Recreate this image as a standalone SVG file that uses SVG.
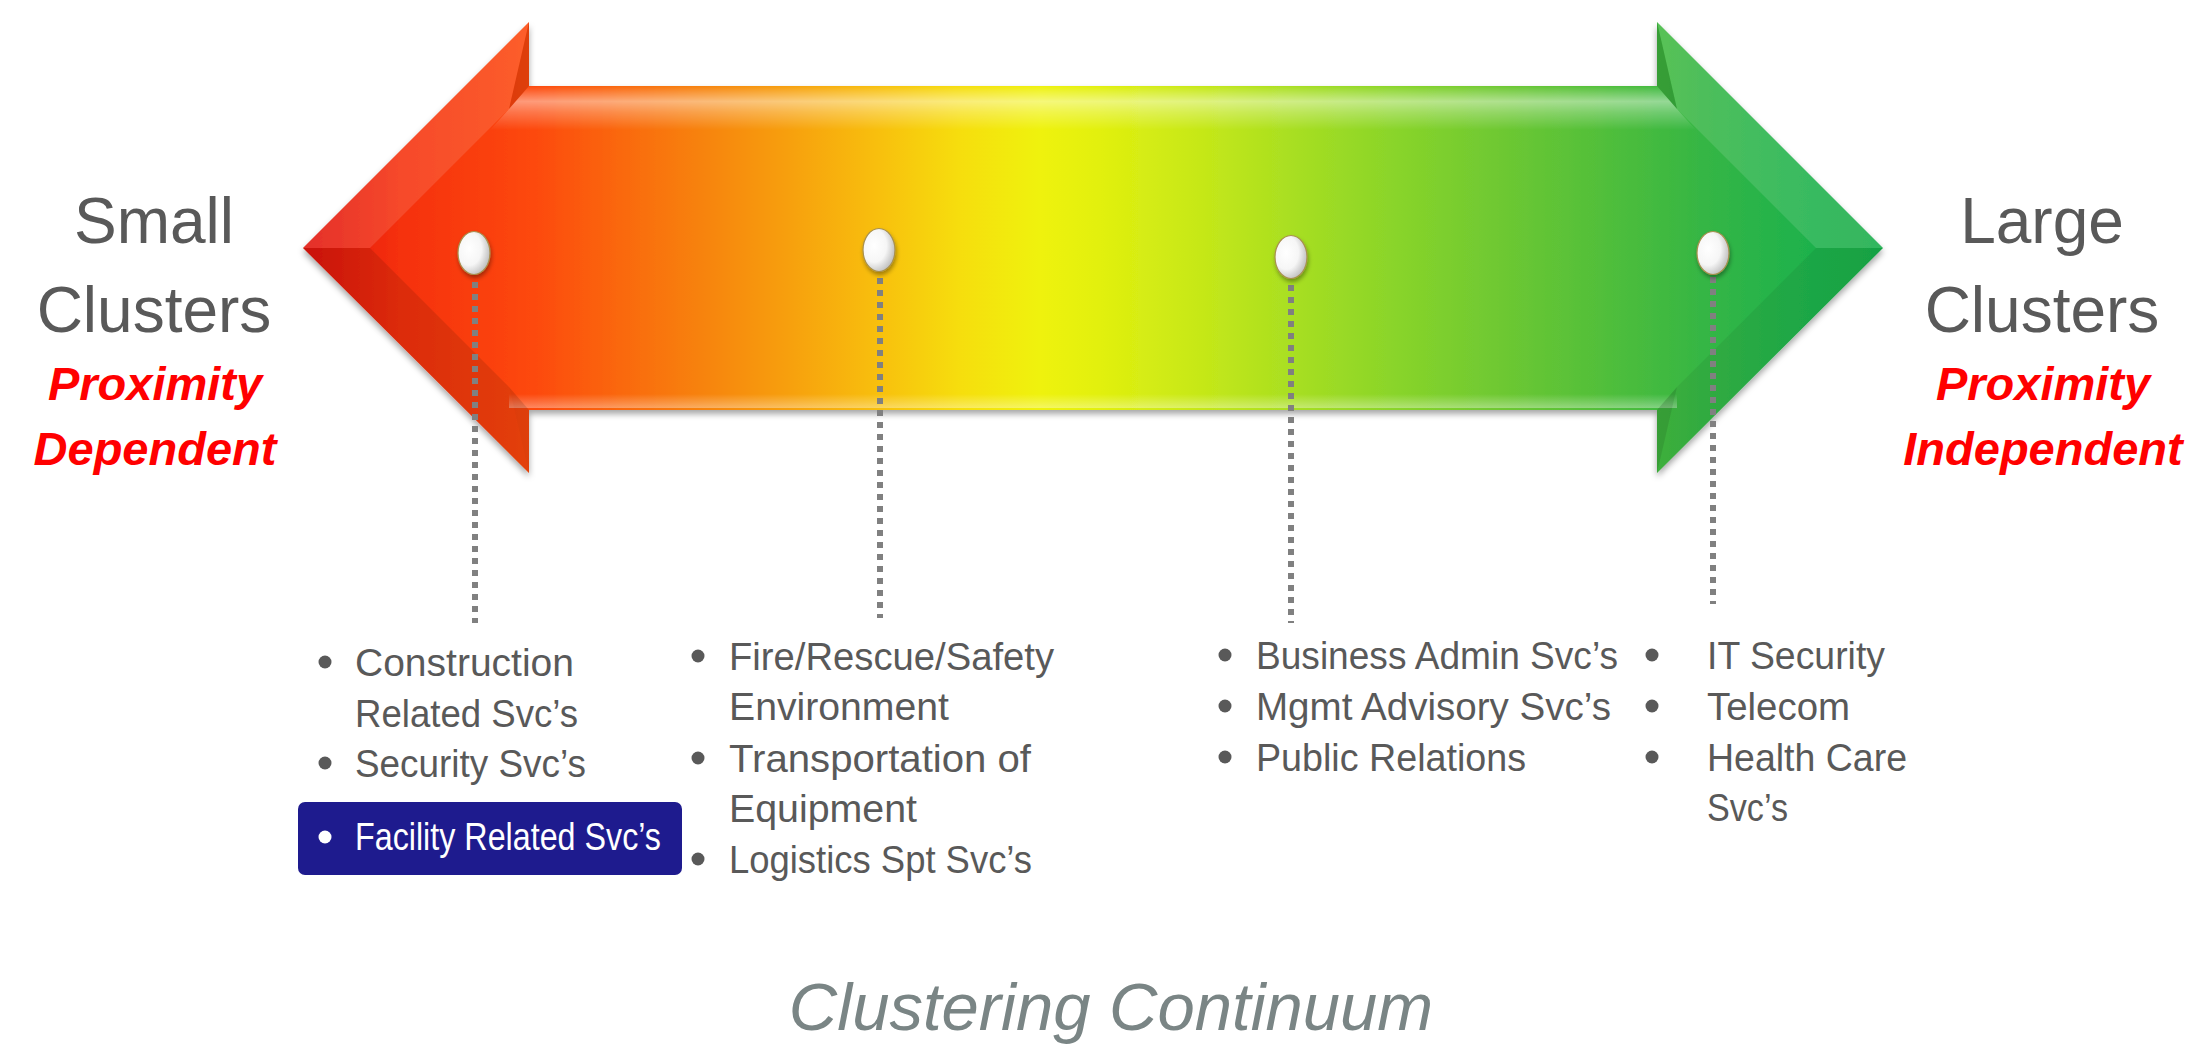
<svg xmlns="http://www.w3.org/2000/svg" width="2203" height="1045" viewBox="0 0 2203 1045">
<defs>
<linearGradient id="rainbow" gradientUnits="userSpaceOnUse" x1="303" y1="0" x2="1883" y2="0">
<stop offset="0" stop-color="#e0140a"/>
<stop offset=".061" stop-color="#f5300c"/>
<stop offset=".144" stop-color="#fd480a"/>
<stop offset=".201" stop-color="#fa680a"/>
<stop offset=".251" stop-color="#f7820a"/>
<stop offset=".308" stop-color="#f7a00c"/>
<stop offset=".365" stop-color="#f8c00a"/>
<stop offset=".416" stop-color="#f6de0a"/>
<stop offset=".466" stop-color="#eff20a"/>
<stop offset=".504" stop-color="#e2f00e"/>
<stop offset=".568" stop-color="#c6e818"/>
<stop offset=".631" stop-color="#a6de22"/>
<stop offset=".694" stop-color="#88d42a"/>
<stop offset=".758" stop-color="#6ec832"/>
<stop offset=".821" stop-color="#52bf3a"/>
<stop offset=".884" stop-color="#36b644"/>
<stop offset=".947" stop-color="#20b24c"/>
<stop offset="1" stop-color="#18ac48"/>
</linearGradient>
<linearGradient id="topGlow" x1="0" y1="0" x2="0" y2="1">
<stop offset="0" stop-color="#fff" stop-opacity="0"/>
<stop offset=".35" stop-color="#fff" stop-opacity=".45"/>
<stop offset=".6" stop-color="#fff" stop-opacity=".25"/>
<stop offset="1" stop-color="#fff" stop-opacity="0"/>
</linearGradient>
<linearGradient id="botGlow" x1="0" y1="0" x2="0" y2="1">
<stop offset="0" stop-color="#fff" stop-opacity="0"/>
<stop offset="1" stop-color="#fff" stop-opacity=".35"/>
</linearGradient>
<radialGradient id="pinFill" cx=".35" cy=".4" r=".7">
<stop offset="0" stop-color="#ffffff"/>
<stop offset=".55" stop-color="#f6f6f6"/>
<stop offset="1" stop-color="#b8b8b8"/>
</radialGradient>
<filter id="shadow" x="-5%" y="-10%" width="110%" height="125%">
<feDropShadow dx="0" dy="4" stdDeviation="3" flood-color="#000" flood-opacity=".35"/>
</filter>
<filter id="pinShadow" x="-50%" y="-50%" width="200%" height="200%">
<feDropShadow dx="1" dy="3" stdDeviation="2" flood-color="#000" flood-opacity=".35"/>
</filter>
</defs>
<style>
.side{font-family:"Liberation Sans",Arial,sans-serif;font-size:64px;fill:#595959;text-anchor:middle}
.red{font-family:"Liberation Sans",Arial,sans-serif;font-size:47px;font-weight:bold;font-style:italic;fill:#ff0000;text-anchor:middle}
.item{font-family:"Liberation Sans",Arial,sans-serif;font-size:38px;fill:#595959}
.white{fill:#ffffff}
.dot{fill:#595959}
.lead{stroke:#808080;stroke-width:6;stroke-dasharray:6 6;fill:none}
.pin{fill:url(#pinFill);stroke:#a8904e;stroke-width:1.2;filter:url(#pinShadow)}
.title{font-family:"Liberation Sans",Arial,sans-serif;font-size:67px;font-style:italic;fill:#7a8585;text-anchor:middle}
</style>
<rect width="2203" height="1045" fill="#ffffff"/>

<g id="arrow">
<path d="M303,248 L529,22 L529,86 L1657,86 L1657,22 L1883,248 L1657,473 L1657,410 L529,410 L529,473 Z" fill="url(#rainbow)" filter="url(#shadow)"/>
<polygon points="529,86 1657,86 1677,109 1696,130 490,130 509,109" fill="url(#topGlow)"/>
<rect x="509" y="394" width="1168" height="14" fill="url(#botGlow)"/>
<polygon points="303,248 529,22 509,109 370,248" fill="#fff" fill-opacity=".12"/>
<polygon points="529,22 529,86 509,109" fill="#000" fill-opacity=".12"/>
<polygon points="303,248 370,248 509,387 529,473" fill="#000" fill-opacity=".1"/>
<polygon points="529,473 529,410 509,387" fill="#000" fill-opacity=".12"/>
<polygon points="1883,248 1657,22 1677,109 1816,248" fill="#fff" fill-opacity=".12"/>
<polygon points="1657,22 1657,86 1677,109" fill="#000" fill-opacity=".15"/>
<polygon points="1883,248 1816,248 1677,387 1657,473" fill="#000" fill-opacity=".06"/>
<polygon points="1657,473 1657,410 1677,387" fill="#000" fill-opacity=".15"/>
</g>

<g id="connectors">
<line class="lead" x1="475" y1="282" x2="475" y2="623"/>
<line class="lead" x1="880" y1="278" x2="880" y2="618"/>
<line class="lead" x1="1291" y1="285" x2="1291" y2="623"/>
<line class="lead" x1="1713" y1="265" x2="1713" y2="604"/>
</g>

<g id="pins">
<ellipse class="pin" cx="474" cy="253" rx="16" ry="21.5"/>
<ellipse class="pin" cx="879" cy="250" rx="16" ry="21.5"/>
<ellipse class="pin" cx="1291" cy="257" rx="16" ry="21.5"/>
<ellipse class="pin" cx="1713" cy="253" rx="16" ry="21.5"/>
</g>

<g id="small-clusters">
<text class="side" x="154" y="243">Small</text>
<text class="side" x="154" y="332">Clusters</text>
<text class="red" x="155" y="400">Proximity</text>
<text class="red" x="155" y="465">Dependent</text>
</g>

<g id="large-clusters">
<text class="side" x="2042" y="243">Large</text>
<text class="side" x="2042" y="332">Clusters</text>
<text class="red" x="2043" y="400">Proximity</text>
<text class="red" x="2043" y="465">Independent</text>
</g>

<g id="list-1">
<circle class="dot" cx="325" cy="662" r="6.5"/>
<text class="item" x="355" y="676" textLength="219" lengthAdjust="spacingAndGlyphs">Construction</text>
<text class="item" x="355" y="727" textLength="223" lengthAdjust="spacingAndGlyphs">Related Svc’s</text>
<circle class="dot" cx="325" cy="763" r="6.5"/>
<text class="item" x="355" y="777" textLength="231" lengthAdjust="spacingAndGlyphs">Security Svc’s</text>
<rect x="298" y="802" width="384" height="73" rx="7" fill="#1e1b8e"/>
<circle class="white" cx="325" cy="837" r="6.5"/>
<text class="item white" x="355" y="850" textLength="306" lengthAdjust="spacingAndGlyphs">Facility Related Svc’s</text>
</g>

<g id="list-2">
<circle class="dot" cx="698" cy="656" r="6.5"/>
<text class="item" x="729" y="670" textLength="325" lengthAdjust="spacingAndGlyphs">Fire/Rescue/Safety</text>
<text class="item" x="729" y="720" textLength="220" lengthAdjust="spacingAndGlyphs">Environment</text>
<circle class="dot" cx="698" cy="758" r="6.5"/>
<text class="item" x="729" y="772" textLength="302" lengthAdjust="spacingAndGlyphs">Transportation of</text>
<text class="item" x="729" y="822" textLength="188" lengthAdjust="spacingAndGlyphs">Equipment</text>
<circle class="dot" cx="698" cy="859" r="6.5"/>
<text class="item" x="729" y="873" textLength="303" lengthAdjust="spacingAndGlyphs">Logistics Spt Svc’s</text>
</g>

<g id="list-3">
<circle class="dot" cx="1225" cy="655" r="6.5"/>
<text class="item" x="1256" y="669" textLength="362" lengthAdjust="spacingAndGlyphs">Business Admin Svc’s</text>
<circle class="dot" cx="1225" cy="706" r="6.5"/>
<text class="item" x="1256" y="720" textLength="355" lengthAdjust="spacingAndGlyphs">Mgmt Advisory Svc’s</text>
<circle class="dot" cx="1225" cy="757" r="6.5"/>
<text class="item" x="1256" y="771" textLength="270" lengthAdjust="spacingAndGlyphs">Public Relations</text>
</g>

<g id="list-4">
<circle class="dot" cx="1652" cy="655" r="6.5"/>
<text class="item" x="1707" y="669" textLength="178" lengthAdjust="spacingAndGlyphs">IT Security</text>
<circle class="dot" cx="1652" cy="706" r="6.5"/>
<text class="item" x="1707" y="720" textLength="143" lengthAdjust="spacingAndGlyphs">Telecom</text>
<circle class="dot" cx="1652" cy="757" r="6.5"/>
<text class="item" x="1707" y="771" textLength="200" lengthAdjust="spacingAndGlyphs">Health Care</text>
<text class="item" x="1707" y="821" textLength="81" lengthAdjust="spacingAndGlyphs">Svc’s</text>
</g>

<g id="title">
<text class="title" x="1111" y="1030">Clustering Continuum</text>
</g>
</svg>
